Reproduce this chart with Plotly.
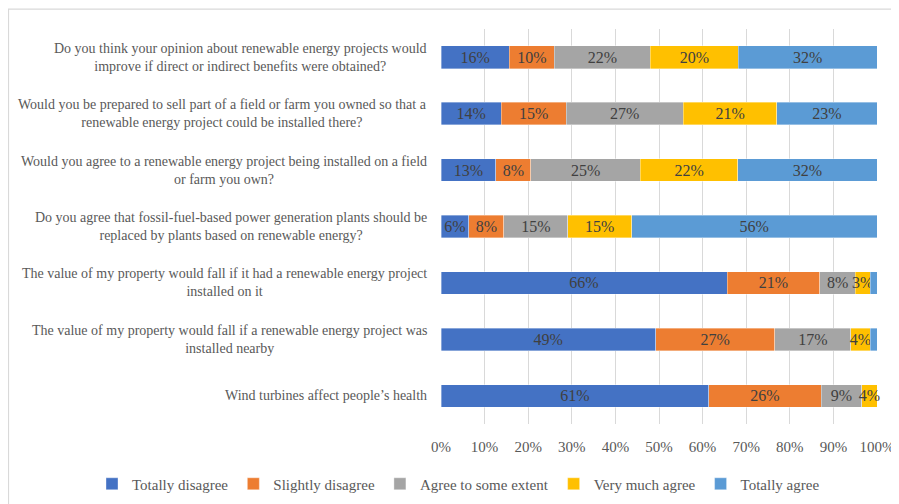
import plotly.graph_objects as go

categories = [
    "Do you think your opinion about renewable energy projects would<br>improve if direct or indirect benefits were obtained?",
    "Would you be prepared to sell part of a field or farm you owned so that a<br>renewable energy project could be installed there?",
    "Would you agree to a renewable energy project being installed on a field<br>or farm you own?",
    "Do you agree that fossil-fuel-based power generation plants should be<br>replaced by plants based on renewable energy?",
    "The value of my property would fall if it had a renewable energy project<br>installed on it",
    "The value of my property would fall if a renewable energy project was<br>installed nearby",
    "Wind turbines affect people\u2019s health",
]
series_names = ["Totally disagree", "Slightly disagree", "Agree to some extent",
                "Very much agree", "Totally agree"]
totally_disagree = [15.7, 13.8, 12.6, 6.4, 65.6, 49.2, 61.4]
slightly_disagree = [10.3, 14.9, 8.0, 8.0, 21.3, 27.4, 25.8]
agree_some = [22.0, 26.9, 25.1, 14.7, 8.1, 17.4, 9.3]
very_much_agree = [20.2, 21.4, 22.4, 14.6, 3.4, 4.4, 3.5]
totally_agree = [31.8, 23.0, 31.9, 56.3, 1.6, 1.6, 0.0]
x_ticks = [0, 10, 20, 30, 40, 50, 60, 70, 80, 90, 100]
x_tick_labels = ["0%", "10%", "20%", "30%", "40%", "50%", "60%", "70%", "80%", "90%", "100%"]

colors = ["#4472C4", "#ED7D31", "#A5A5A5", "#FFC000", "#5B9BD5"]
series_values = [totally_disagree, slightly_disagree, agree_some, very_much_agree, totally_agree]

FONT = "Liberation Serif"
GRAY = "#595959"

fig = go.Figure()
for name, vals, col in zip(series_names, series_values, colors):
    texts = [f"{round(v)}%" if v >= 2.5 else "" for v in vals]
    fig.add_trace(go.Bar(
        y=categories, x=vals, name=name, orientation="h",
        marker=dict(color=col, line=dict(color="rgba(255,255,255,0.6)", width=0.6)),
        text=texts, textposition="inside", insidetextanchor="middle", textangle=0,
        textfont=dict(family=FONT, size=16, color="#404040"),
        constraintext="none", cliponaxis=False, hoverinfo="skip",
    ))

annotations = []
for c in categories:
    annotations.append(dict(
        x=0, xref="paper", y=c, yref="y", text=c, showarrow=False,
        xanchor="right", yanchor="middle", align="center", xshift=-12,
        font=dict(family=FONT, size=14, color=GRAY),
    ))

# page body has an 8px margin, so the figure is offset by (8, 8)
fig.update_layout(
    width=899, height=504,
    margin=dict(l=433, r=30, t=21, b=88),
    barmode="stack", bargap=0.6,
    paper_bgcolor="white", plot_bgcolor="white",
    uniformtext=dict(minsize=16, mode="show"),
    font=dict(family=FONT, size=14, color=GRAY),
    xaxis=dict(range=[0, 100], tickvals=x_ticks, ticktext=x_tick_labels,
               showgrid=True, gridcolor="#d9d9d9", gridwidth=1, zeroline=False,
               showline=False, ticks="", ticklabelstandoff=12,
               tickfont=dict(family=FONT, size=15, color=GRAY), fixedrange=True),
    yaxis=dict(categoryorder="array", categoryarray=categories[::-1],
               showticklabels=False, showgrid=False,
               zeroline=False, showline=False, ticks="", fixedrange=True),
    legend=dict(orientation="h", x=(92 - 441) / 436, xanchor="left", y=-0.152, yanchor="middle",
                font=dict(family=FONT, size=15, color=GRAY), traceorder="normal",
                bgcolor="rgba(0,0,0,0)", itemwidth=30,
                itemclick=False, itemdoubleclick=False),
    annotations=annotations,
    shapes=[dict(type="rect", xref="paper", yref="paper",
                 x0=(8.5 - 441) / 436, x1=(905 - 441) / 436,
                 y0=(424 - 510) / 395, y1=(424 - 9.2) / 395,
                 line=dict(color="#d9d9d9", width=1.2), layer="below")],
    showlegend=True,
)

fig.write_html("out.html")
